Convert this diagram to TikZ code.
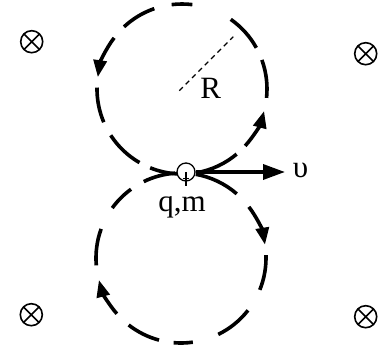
\documentclass[tikz,border=0pt]{standalone}
\usepackage{fontspec}
\setmainfont{Liberation Serif}
\usetikzlibrary{arrows.meta}
\begin{document}
\begin{tikzpicture}[x=1pt,y=1pt,
  traj/.style={line width=3.6pt},
  trajarrow/.style={line width=3.6pt,-{Triangle[length=17pt,width=13pt]}},
  lbl/.style={font=\fontsize{31}{36}\selectfont, inner sep=0pt, anchor=base},
  bfield/.style={circle, draw, line width=1.6pt, minimum size=22pt, inner sep=0pt,
    path picture={\draw[line width=1.6pt]
      (path picture bounding box.north west) -- (path picture bounding box.south east)
      (path picture bounding box.north east) -- (path picture bounding box.south west);}},
  particle/.style={circle, draw, fill=white, line width=1.3pt, minimum size=18pt, inner sep=0pt},
  varrow/.style={line width=3.5pt,-{Triangle[length=22pt,width=15pt]}},
  radius line/.style={line width=1.2pt, dash pattern=on 5pt off 4pt}
  ]
\useasboundingbox (0,0) rectangle (386,346);
\coordinate (U) at (182,257);
\coordinate (L) at (181,88);

% upper circle (counter-clockwise)
\foreach \a/\b in {83/97,109/133,179/203,213/240,248/267,280/310,354/380,29/55}
  \draw[traj] ([shift={(U)}]\a:85) arc[start angle=\a, end angle=\b, radius=85];
\draw[trajarrow] ([shift={(U)}]143:85) arc[start angle=143, end angle=172, radius=85];
\draw[trajarrow] ([shift={(U)}]318:85) arc[start angle=318, end angle=345, radius=85];

% lower circle (clockwise)
\foreach \a/\b in {94/116,126/144,160/185,232/255,265/278,296/322,338/362,49/80}
  \draw[traj] ([shift={(L)}]\a:85) arc[start angle=\a, end angle=\b, radius=85];
\draw[trajarrow] ([shift={(L)}]221:85) arc[start angle=221, end angle=195, radius=85];
\draw[trajarrow] ([shift={(L)}]37:85) arc[start angle=37, end angle=9, radius=85];

% radius
\coordinate (rc) at (179.3,255.3);
\coordinate (re) at (233.3,309.3);
\draw[radius line] (rc) -- (re);
\node[lbl] (R) at (210.7,247) {R};

% particle
\node[particle] (p) at (186,174) {};
\draw[line width=1.3pt] (p.center) -- ++(0,-14);
\draw[line width=1.3pt] ([shift={(-3,-6.5)}]p.center) -- ++(6,0);
\node[lbl] (qm) at (182,134.3) {q,m};

% velocity
\coordinate (vtip) at (285,174);
\draw[varrow] (p.east) -- (vtip);
\node[lbl] (v) at (300.5,168) {υ};

% magnetic field
\node[bfield] (b1) at (31.7,304.3) {};
\node[bfield] (b2) at (365.7,292.3) {};
\node[bfield] (b3) at (31.3,31.3) {};
\node[bfield] (b4) at (365.7,29.3) {};
\end{tikzpicture}
\end{document}
